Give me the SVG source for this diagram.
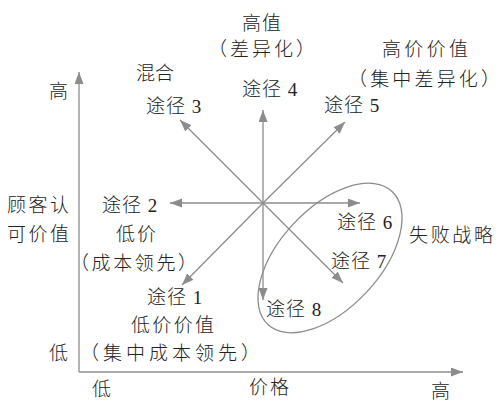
<svg xmlns="http://www.w3.org/2000/svg" width="501" height="416" viewBox="0 0 501 416">
<defs>
<marker id="ah" markerUnits="userSpaceOnUse" markerWidth="13" markerHeight="10" refX="12" refY="4.5" orient="auto">
<path d="M0,0 L12,4.5 L0,9 z" fill="#8c8c8c"/>
</marker>
<style>
text{font-family:"Liberation Serif","Noto Sans CJK SC",serif;font-size:19px;fill:#222;font-weight:300}
.p{letter-spacing:1px}
.ln{stroke:#8c8c8c;stroke-width:1.3;fill:none}
.ax{stroke:#8c8c8c;stroke-width:1.3;fill:none}
</style>
</defs>
<rect width="501" height="416" fill="#fff"/>
<g id="axes">
<line class="ax" x1="79" y1="372" x2="79" y2="72" marker-end="url(#ah)"/>
<line class="ax" x1="79" y1="372" x2="463" y2="372" marker-end="url(#ah)"/>
</g>
<g id="connectors">
<line class="ln" x1="263" y1="203" x2="263" y2="110" marker-end="url(#ah)"/>
<line class="ln" x1="263" y1="203" x2="345" y2="122" marker-end="url(#ah)"/>
<line class="ln" x1="263" y1="203" x2="360" y2="203" marker-end="url(#ah)"/>
<line class="ln" x1="263" y1="203" x2="343" y2="283" marker-end="url(#ah)"/>
<line class="ln" x1="263" y1="203" x2="263" y2="300" marker-end="url(#ah)"/>
<line class="ln" x1="263" y1="203" x2="170" y2="203" marker-end="url(#ah)"/>
<line class="ln" x1="263" y1="203" x2="182" y2="285" marker-end="url(#ah)"/>
<line class="ln" x1="263" y1="203" x2="180" y2="120" marker-end="url(#ah)"/>
</g>
<g id="failure-ellipse">
<ellipse class="ln" cx="330" cy="258" rx="91" ry="50" transform="rotate(-47 330 258)"/>
</g>
<g id="axis-labels">
<text x="49" y="98">高</text>
<text x="7" y="212" textLength="62" lengthAdjust="spacing">顾客认</text>
<text x="7" y="241" textLength="62" lengthAdjust="spacing">可价值</text>
<text x="49" y="360">低</text>
<text x="92" y="396">低</text>
<text x="249" y="394" textLength="40" lengthAdjust="spacing">价格</text>
<text x="431" y="398">高</text>
</g>
<g id="path1">
<text class="p" x="147" y="304">途径 1</text>
<text x="131" y="332" textLength="83" lengthAdjust="spacing">低价价值</text>
<text x="80" y="360" textLength="180" lengthAdjust="spacing">（集中成本领先）</text>
</g>
<g id="path2">
<text class="p" x="102" y="212">途径 2</text>
<text x="116" y="241" textLength="40" lengthAdjust="spacing">低价</text>
<text x="70" y="270" textLength="127" lengthAdjust="spacing">（成本领先）</text>
</g>
<g id="path3">
<text x="136" y="80" textLength="38" lengthAdjust="spacing">混合</text>
<text class="p" x="146" y="113">途径 3</text>
</g>
<g id="path4">
<text x="242" y="30" textLength="39" lengthAdjust="spacing">高值</text>
<text x="208" y="56" textLength="107" lengthAdjust="spacing">（差异化）</text>
<text class="p" x="242" y="96">途径 4</text>
</g>
<g id="path5">
<text x="382" y="56" textLength="86" lengthAdjust="spacing">高价价值</text>
<text x="348" y="86" textLength="152" lengthAdjust="spacing">（集中差异化）</text>
<text class="p" x="324" y="112">途径 5</text>
</g>
<g id="path6">
<text class="p" x="337" y="229">途径 6</text>
</g>
<g id="path7">
<text class="p" x="331" y="268">途径 7</text>
</g>
<g id="path8">
<text class="p" x="266" y="316">途径 8</text>
</g>
<g id="failure">
<text x="409" y="242" textLength="84" lengthAdjust="spacing">失败战略</text>
</g>
</svg>
